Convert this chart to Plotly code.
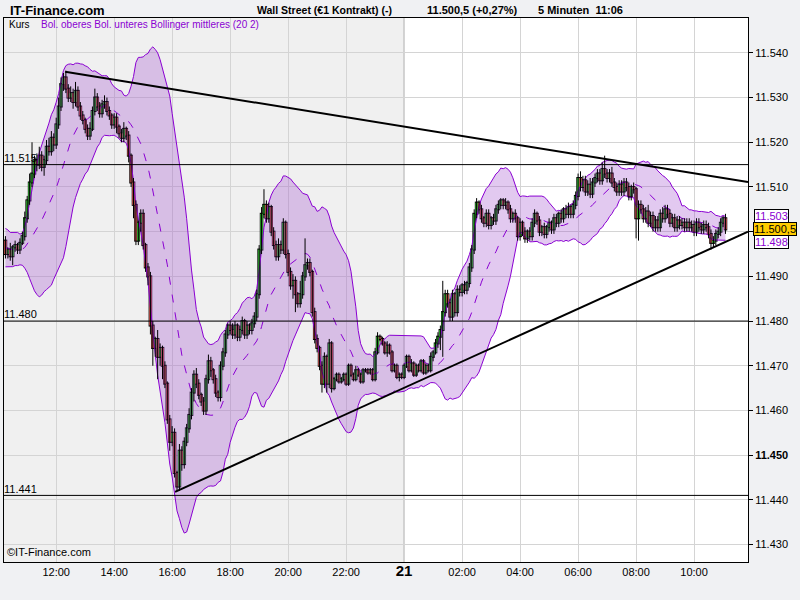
import plotly.graph_objects as go
import pandas as pd

# ---------------- data ----------------
first_bar_hour = 10.25          # first candle 10:15 (day 20), 5-minute bars
bar_minutes = 5

closes = [
    11495, 11496, 11494.5, 11496.5, 11497, 11496, 11497.5, 11499, 11503, 11507,
    11511, 11513, 11516, 11515, 11517, 11514.5, 11516, 11519, 11518, 11521,
    11519.5, 11524, 11528, 11533, 11534.5, 11532, 11530, 11531, 11529, 11531.5,
    11528, 11526, 11525, 11523, 11521.5, 11523, 11527, 11530, 11528, 11526.5,
    11528.5, 11529, 11527, 11526, 11524, 11525.5, 11523.5, 11522, 11521, 11523,
    11521.5, 11517, 11511, 11506, 11498, 11502, 11504, 11497, 11492, 11490,
    11479, 11474, 11476, 11472, 11474, 11470, 11466, 11458, 11453, 11455,
    11446, 11443, 11451, 11448, 11453, 11456, 11459, 11464, 11468, 11466,
    11463.5, 11462, 11460, 11467, 11471, 11469, 11467, 11464, 11463, 11470,
    11473, 11477, 11479, 11478, 11477, 11479, 11476.5, 11478, 11480, 11477,
    11479, 11478, 11479.5, 11481, 11486, 11496, 11504, 11506, 11503, 11505.5,
    11500, 11497, 11494.5, 11497, 11496, 11502, 11495, 11491, 11488, 11489,
    11486, 11484, 11486, 11490, 11492.5, 11493, 11491, 11482, 11476, 11474,
    11470, 11466, 11472, 11466, 11475, 11465, 11467, 11468, 11466.5, 11467,
    11468, 11466, 11470, 11468, 11467, 11469, 11468, 11466.5, 11469, 11469,
    11468.5, 11469, 11467, 11473, 11476.5, 11476, 11475, 11473, 11474.5, 11473,
    11469, 11470, 11467.5, 11468, 11467.5, 11470, 11472, 11469, 11470.5, 11468,
    11470, 11469, 11471, 11468.5, 11470, 11469, 11472, 11473, 11475, 11476.5,
    11478, 11482, 11486, 11484, 11481, 11486, 11482, 11487, 11486.5, 11488,
    11487, 11488.5, 11492, 11496, 11504, 11506.5, 11505, 11503, 11502, 11504,
    11501.5, 11503, 11502.5, 11505, 11506, 11507, 11506, 11506.5, 11505, 11503,
    11504, 11503, 11499, 11502, 11500, 11498.5, 11500, 11499, 11502, 11504,
    11502.5, 11500, 11501, 11499.5, 11501, 11502, 11500.5, 11503, 11502, 11504,
    11503, 11505, 11504, 11505.5, 11504, 11506, 11508, 11512, 11510, 11511.5,
    11509, 11510.5, 11508.5, 11511, 11512, 11513, 11511.5, 11514, 11513, 11512,
    11513, 11511, 11510, 11509, 11510.5, 11509, 11511, 11510, 11508, 11510,
    11509.5, 11503, 11506, 11505, 11503, 11504.5, 11502, 11503.5, 11501, 11502.5,
    11501, 11504, 11503, 11505, 11504, 11502, 11503, 11501, 11502.5, 11501.5,
    11502, 11501, 11502, 11501, 11501.5, 11500, 11502, 11501, 11500.5, 11501.5,
    11501, 11499.5, 11497.5, 11498, 11499.5, 11500, 11502, 11503, 11500.5,
]

upper_wicks = [
    1, 0.5, 1.5, 0.5, 1, 0.5, 1, 1, 1.5, 1,
    2, 7, 1, 1.5, 2, 1, 1, 1.5, 2, 1.5,
    1, 1.5, 2, 1.5, 1, 1.5, 1, 1.5, 1, 2,
    1, 1, 1, 0.5, 1, 1.5, 1, 2, 1, 1,
    1, 1.5, 1, 1, 0.5, 1, 1, 0.5, 1, 1.5,
    0.5, 1, 0.5, 1, 1, 0.5, 1, 1, 0.5, 1,
    1, 1, 0.5, 2, 1, 0.5, 1, 0.5, 1, 1.5,
    1, 0.5, 1.5, 1, 1, 1, 1.5, 1, 1, 1.5,
    1, 0.5, 1, 1, 1.5, 1, 0.5, 1, 0.5, 1,
    1, 1, 0.5, 1, 1.5, 1, 0.5, 1, 1, 0.5,
    1, 0.5, 1, 1, 1, 1, 1.5, 3.5, 1, 1,
    0.5, 1, 1, 1.5, 1, 1, 0.5, 1, 1, 1.5,
    1, 0.5, 3, 1, 6, 1, 1, 0.5, 1, 1,
    0.5, 1, 1, 0.5, 1, 0.5, 0.5, 0.5, 0.5, 0.5,
    0.5, 0.5, 0.5, 0.5, 0.5, 1, 0.5, 0.5, 0.5, 0.5,
    0.5, 0.5, 0.5, 1, 1, 0.5, 0.5, 0.5, 1, 0.5,
    0.5, 0.5, 0.5, 0.5, 0.5, 0.5, 0.5, 0.5, 1, 0.5,
    0.5, 0.5, 0.5, 0.5, 0.5, 0.5, 1, 0.5, 1, 1,
    1, 7, 1, 1, 1, 1, 0.5, 1, 1, 0.5,
    1, 0.5, 1, 1, 1, 1, 0.5, 1, 0.5, 1,
    1, 0.5, 1, 1, 1, 0.5, 0.5, 1, 0.5, 1,
    0.5, 1, 0.5, 1, 0.5, 1, 0.5, 1, 1, 1,
    0.5, 1, 0.5, 1, 0.5, 1, 0.5, 1, 1, 0.5,
    1, 0.5, 1, 1, 0.5, 1, 1, 1, 1.5, 1,
    1, 1, 1.5, 1, 1, 1, 1, 1.5, 3, 1,
    1, 1.5, 1, 1, 1, 1, 1, 1, 1, 0.5,
    1, 0.5, 1, 1, 1, 1, 1.5, 1, 1, 1,
    1, 1, 1.5, 1, 1, 1, 1, 1, 1, 1,
    1, 1, 1, 1, 1, 1, 1, 1, 1, 1,
    1, 1, 1, 1, 1, 1, 1, 0.5, 1,
]

lower_wicks = [
    1, 1, 1, 2, 1, 1, 1, 0.5, 1, 1,
    1, 1, 1, 1.5, 1, 1, 2, 1, 1, 1,
    1.5, 1, 1, 1, 1.5, 1, 1, 1, 1.5, 1,
    1, 1, 1, 1, 1, 1, 0.5, 1, 1, 1,
    1, 1, 1, 1, 1, 1, 1.5, 1, 1, 1,
    1, 1.5, 1, 3, 1, 1, 2, 1, 1, 2,
    2, 4, 2, 5, 2, 3, 1, 1, 2, 1,
    1, 1, 1, 1.5, 1, 1, 1, 1, 2, 1,
    1, 1, 1, 1, 1, 1.5, 1, 1, 1, 1,
    1, 1, 1, 1, 1, 1, 1, 1, 1, 1,
    1, 1, 1, 1, 1, 1, 1, 1, 1, 1,
    1, 1, 1, 1, 1, 1, 1, 1, 1, 3,
    4, 1, 1, 1, 1, 1, 1, 1, 1, 1,
    1, 2, 1, 2, 1, 1, 0.5, 0.5, 0.5, 0.5,
    0.5, 0.5, 0.5, 0.5, 0.5, 0.5, 0.5, 0.5, 0.5, 0.5,
    0.5, 0.5, 0.5, 0.5, 0.5, 0.5, 0.5, 0.5, 1, 0.5,
    0.5, 0.5, 0.5, 1, 0.5, 0.5, 0.5, 0.5, 0.5, 0.5,
    0.5, 0.5, 0.5, 0.5, 0.5, 0.5, 0.5, 1, 0.5, 1,
    3, 6, 1, 1, 1, 1, 1, 1, 1, 1,
    1, 1, 1, 1, 1, 1, 1, 1, 1, 1,
    1, 1, 1, 1, 1, 1, 1, 1, 1, 1,
    1, 1, 1, 1, 1, 1, 1, 1, 1, 1,
    1, 1, 1, 1, 1, 1, 1, 1, 1, 1,
    1, 1, 1, 1, 1, 1, 1, 1, 1, 1,
    1, 1, 1, 1, 1, 1, 1, 1, 1, 1,
    1, 1, 1, 1, 1, 1, 1, 1, 1, 1,
    1, 4.5, 5, 1, 1, 1, 1, 1, 1, 1,
    1, 1, 1, 1, 1, 1, 1, 1, 1, 1,
    1, 1, 1, 1, 1, 1, 1, 1, 1, 1,
    1, 1, 1.5, 1, 1, 1, 1, 1, 1,
]

# closes before the visible window (only feed the 20-bar Bollinger window)
prior_closes = [11499, 11500, 11497, 11494, 11496, 11499.5, 11498, 11495, 11493, 11494,
                11496, 11498, 11499.5, 11497, 11494.5, 11493, 11495, 11497, 11498]

x_tick_vals = [12, 14, 16, 18, 20, 22, 24, 26, 28, 30, 32, 34]
x_tick_text = ["12:00", "14:00", "16:00", "18:00", "20:00", "22:00",
               "<b><span style='font-size:15px'>21</span></b>",
               "02:00", "04:00", "06:00", "08:00", "10:00"]
y_tick_vals = [11430, 11440, 11450, 11460, 11470, 11480, 11490, 11500, 11510, 11520, 11530, 11540]
y_tick_text = ["11.430", "11.440", "<b>11.450</b>", "11.460", "11.470", "11.480", "11.490",
               "", "11.510", "11.520", "11.530", "11.540"]

level_values = [11515, 11480, 11441]
level_labels = ["11.515", "11.480", "11.441"]
trend_upper_x, trend_upper_y = [12.31, 35.86], [11535.75, 11511.1]
trend_lower_x, trend_lower_y = [16.1, 35.86], [11441.8, 11500.0]
day_break = 24
bol_period, bol_k = 20, 2
last_price_boxes = [("11.503", 11503.4), ("11.498", 11497.8)]
last_price = ("11.500,5", 11500.5)

x_range = [10.2, 35.86]
y_range = [11426.1, 11547.8]

# ---------------- derived ----------------
times = [first_bar_hour + i * bar_minutes / 60 for i in range(len(closes))]
opens = [prior_closes[-1]] + closes[:-1]
highs = [max(o, c) + u for o, c, u in zip(opens, closes, upper_wicks)]
lows = [min(o, c) - l for o, c, l in zip(opens, closes, lower_wicks)]

s = pd.Series(prior_closes + closes)
mid = s.rolling(bol_period).mean()
sd = s.rolling(bol_period).std(ddof=0)
n0 = len(prior_closes)
bol_mid = mid.iloc[n0:].tolist()
bol_up = (mid + bol_k * sd).iloc[n0:].tolist()
bol_lo = (mid - bol_k * sd).iloc[n0:].tolist()

PURPLE = "#8a00d2"
FILL = "rgba(150,60,200,0.28)"
GREEN = "#38cc38"
RED = "#e8605a"
SANS = "Liberation Sans, Arial, sans-serif"

L, R, T, B = 4, 748, 18, 562
PX_PER_HOUR = (R - L) / (x_range[1] - x_range[0])
PX_PER_POINT = (B - T) / (y_range[1] - y_range[0])
def px(xp):
    return (xp - L) / (R - L)
def py(yp):
    return (B - yp) / (B - T)

fig = go.Figure()

# Bollinger band
fig.add_trace(go.Scatter(x=times, y=bol_lo, mode="lines", line=dict(color=PURPLE, width=1),
                         hoverinfo="skip"))
fig.add_trace(go.Scatter(x=times, y=bol_up, mode="lines", line=dict(color=PURPLE, width=1),
                         fill="tonexty", fillcolor=FILL, hoverinfo="skip"))
fig.add_trace(go.Scatter(x=times, y=bol_mid, mode="lines",
                         line=dict(color=PURPLE, width=1, dash="8px,10px"), hoverinfo="skip"))

# horizontal levels with labels
for v, lab in zip(level_values, level_labels):
    fig.add_trace(go.Scatter(x=x_range, y=[v, v], mode="lines",
                             line=dict(color="black", width=1), hoverinfo="skip"))
    fig.add_trace(go.Scatter(x=[x_range[0]], y=[v], mode="text", text=[lab],
                             textposition="top right",
                             textfont=dict(family=SANS, size=11, color="black"),
                             hoverinfo="skip"))

# candles: wicks, black outline boxes, coloured bodies
wx, wy = [], []
for t, lo, hi in zip(times, lows, highs):
    wx += [t, t, None]
    wy += [lo, hi, None]
fig.add_trace(go.Scatter(x=wx, y=wy, mode="lines", line=dict(color="black", width=1),
                         hoverinfo="skip"))
edge = 1.0 / PX_PER_POINT          # 1 px outline in price units
body_base = [min(o, c) for o, c in zip(opens, closes)]
body_len = [abs(c - o) for o, c in zip(opens, closes)]
body_col = [GREEN if c >= o else RED for o, c in zip(opens, closes)]
fig.add_trace(go.Bar(x=times, y=[h + 2 * edge for h in body_len],
                     base=[b - edge for b in body_base], width=3.6 / PX_PER_HOUR,
                     marker=dict(color="black", line=dict(width=0)), hoverinfo="skip"))
fig.add_trace(go.Bar(x=times, y=body_len, base=body_base, width=2.4 / PX_PER_HOUR,
                     marker=dict(color=body_col, line=dict(width=0)), hoverinfo="skip"))

# trend lines
for tx, ty in [(trend_upper_x, trend_upper_y), (trend_lower_x, trend_lower_y)]:
    fig.add_trace(go.Scatter(x=tx, y=ty, mode="lines", line=dict(color="black", width=2),
                             hoverinfo="skip"))

shapes = [
    dict(type="rect", xref="x", yref="paper", x0=x_range[0], x1=day_break, y0=0, y1=1,
         fillcolor="#f0f0f0", line=dict(width=0), layer="below"),
    dict(type="line", xref="x", yref="paper", x0=day_break, x1=day_break, y0=0, y1=1,
         line=dict(color="#a0a0a0", width=1), layer="below"),
]

def text_ann(text, xp, yp, size, color="black"):
    return dict(text=text, x=px(xp), y=py(yp), xref="paper", yref="paper",
                xanchor="left", yanchor="middle", showarrow=False,
                font=dict(family=SANS, size=size, color=color))

annotations = [
    text_ann("<b>IT-Finance.com</b>", 8, 10, 13),
    text_ann("<b>Wall Street (€1 Kontrakt) (-)</b>", 255, 10, 10.5),
    text_ann("<b>11.500,5 (+0,27%)</b>", 425, 10, 11),
    text_ann("<b>5 Minuten  11:06</b>", 536, 10, 11),
    text_ann("Kurs", 7, 25, 10),
    text_ann("Bol. oberes Bol. unteres Bollinger mittleres (20 2)", 39, 25, 10, PURPLE),
    text_ann("©IT-Finance.com", 5, 552, 11),
]
for lab, v in last_price_boxes:
    annotations.append(dict(text=lab, x=px(754), y=v, xref="paper", yref="y",
                            xanchor="left", yanchor="middle", showarrow=False,
                            bgcolor="white", bordercolor="black", borderwidth=1, borderpad=0,
                            font=dict(family=SANS, size=11, color=PURPLE)))
annotations.append(dict(text=last_price[0], x=px(753), y=last_price[1], xref="paper", yref="y",
                        xanchor="left", yanchor="middle", showarrow=False,
                        bgcolor="#ffcc00", bordercolor="black", borderwidth=1, borderpad=0,
                        font=dict(family=SANS, size=11, color="black")))

fig.update_layout(
    width=800, height=600,
    margin=dict(l=L, r=800 - R, t=T, b=600 - B, autoexpand=False),
    paper_bgcolor="#f0f1f3", plot_bgcolor="white",
    showlegend=False, barmode="overlay",
    shapes=shapes, annotations=annotations,
    xaxis=dict(range=x_range, tickvals=x_tick_vals, ticktext=x_tick_text,
               showgrid=True, gridcolor="#d4d4d4", gridwidth=1, zeroline=False,
               showline=True, mirror=True, linecolor="black", linewidth=1,
               ticks="", tickfont=dict(family=SANS, size=11, color="black"),
               fixedrange=True, automargin=False),
    yaxis=dict(range=y_range, side="right", tickvals=y_tick_vals, ticktext=y_tick_text,
               showgrid=True, gridcolor="#d4d4d4", gridwidth=1, zeroline=False,
               showline=True, mirror=True, linecolor="black", linewidth=1,
               ticks="outside", ticklen=4, tickcolor="black",
               tickfont=dict(family=SANS, size=11, color="black"), fixedrange=True,
               automargin=False),
)

fig.write_html("out.html", post_script="document.body.style.margin='0';",
               config={"displayModeBar": False})
